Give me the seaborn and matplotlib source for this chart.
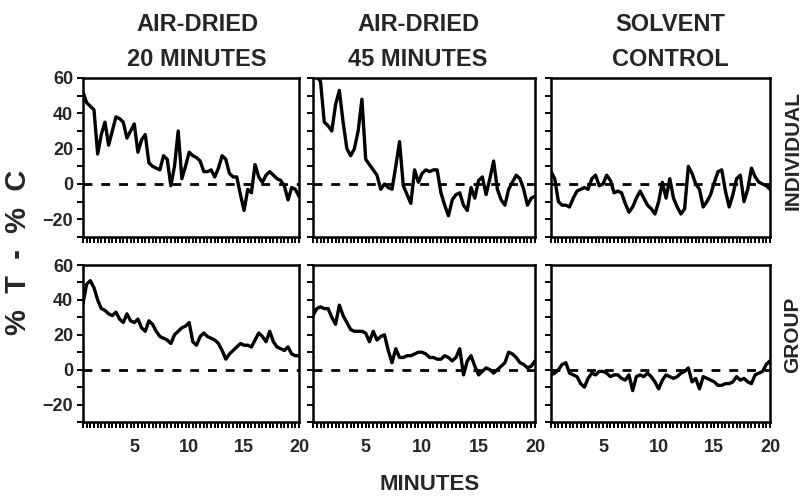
import numpy as np
import pandas as pd
import matplotlib
matplotlib.use('Agg')
import matplotlib.pyplot as plt
import seaborn as sns
from matplotlib.ticker import FixedLocator, MultipleLocator

# sampling every 20 s over 20 minutes
minutes = np.arange(1, 61) / 3

ind_air20 = [52, 46, 44, 42, 17, 28, 35, 22, 30, 38, 37, 35, 26, 30, 34, 18, 25, 28, 12, 10,
             9, 8, 16, 14, -1, 10, 30, 3, 10, 18, 16, 15, 13, 7, 7, 8, 4, 9, 16, 14,
             6, 4, 4, -6, -15, -3, -5, 11, 4, 1, 5, 7, 5, 3, 2, -1, -9, -2, -3, -7]
ind_air45 = [62, 61, 58, 35, 33, 30, 45, 53, 35, 20, 16, 20, 30, 48, 14, 11, 8, 5, -3, 0,
             -2, -3, 10, 24, -1, -6, -11, 8, 1, 6, 8, 7, 8, 8, -5, -12, -18, -9, -6, -5,
             -12, -15, -2, -8, 2, 4, -6, 3, 13, -3, -9, -12, -3, 1, 5, 3, -3, -12, -8, -7]
ind_solvent = [7, 3, -10, -12, -12, -13, -8, -4, -3, -2, -3, 3, 5, -1, 0, 5, 2, -5, -4, -5,
               -11, -16, -13, -8, -4, -8, -12, -14, -17, -10, 1, -8, 3, -8, -13, -17, -14, 10, 6, 0,
               -3, -13, -10, -6, 1, 7, 8, -4, -13, -6, 3, 5, -10, -3, 9, 4, 1, 0, -1, -3]
grp_air20 = [38, 49, 51, 47, 40, 35, 34, 32, 31, 33, 29, 27, 32, 28, 27, 29, 24, 22, 28, 26,
             22, 19, 18, 17, 15, 20, 22, 24, 25, 27, 16, 14, 19, 21, 19, 18, 17, 15, 11, 6,
             9, 11, 13, 15, 14, 14, 13, 17, 21, 19, 16, 22, 16, 13, 12, 11, 13, 9, 8, 8]
grp_air45 = [31, 35, 36, 35, 35, 30, 26, 37, 31, 27, 23, 22, 22, 22, 21, 16, 22, 17, 19, 20,
             11, 4, 12, 7, 7, 8, 8, 9, 10, 10, 9, 7, 7, 6, 6, 8, 7, 5, 7, 12,
             -3, 5, 8, 2, -3, -1, 1, 0, -2, 0, 2, 4, 10, 9, 7, 4, 3, 1, 2, 5]
grp_solvent = [-3, -2, 0, 3, 4, -2, -3, -4, -8, -10, -5, -2, -3, -1, -1, -2, -4, -3, -3, -5,
               -6, -3, -12, -4, -3, -4, -2, -4, -7, -11, -6, -3, -4, -5, -4, -2, -1, 1, -7, -5,
               -11, -4, -5, -6, -7, -9, -9, -8, -8, -7, -4, -6, -5, -7, -8, -3, -2, -1, 3, 5]

col_titles = [("AIR-DRIED", "20 MINUTES"), ("AIR-DRIED", "45 MINUTES"), ("SOLVENT", "CONTROL")]
row_titles = ["INDIVIDUAL", "GROUP"]
series = [[ind_air20, ind_air45, ind_solvent], [grp_air20, grp_air45, grp_solvent]]

sns.set_style('white')
plt.rcParams['font.family'] = ['Liberation Sans', 'DejaVu Sans']
plt.rcParams['font.weight'] = 'bold'

W, H = 808, 504
fig, axes = plt.subplots(2, 3, figsize=(W / 100, H / 100), dpi=100)

col_px = [(83, 299), (313, 535), (551, 770)]
row_px = [(78, 237), (265, 422)]

for r in range(2):
    for c in range(3):
        ax = axes[r, c]
        x0, x1 = col_px[c]
        y0, y1 = row_px[r]
        ax.set_position([x0 / W, 1 - y1 / H, (x1 - x0) / W, (y1 - y0) / H])
        df = pd.DataFrame({'minute': minutes, 'diff': series[r][c]})
        sns.lineplot(data=df, x='minute', y='diff', ax=ax, color='black', linewidth=2.4)
        ax.axhline(0, color='black', linewidth=2, linestyle=(0, (3.2, 3.2)), zorder=1)
        ax.set_xlim(minutes[0], minutes[-1])
        ax.set_ylim(-30, 60)
        ax.set_xlabel('')
        ax.set_ylabel('')
        for s in ax.spines.values():
            s.set_linewidth(1.8)
            s.set_color('black')
        ax.xaxis.set_major_locator(FixedLocator([5, 10, 15, 20]))
        ax.xaxis.set_minor_locator(FixedLocator(minutes))
        ax.yaxis.set_major_locator(FixedLocator([-20, 0, 20, 40, 60]))
        ax.yaxis.set_minor_locator(MultipleLocator(10))
        ax.tick_params(which='both', direction='out', color='black', width=1.4,
                       length=4, labelsize=13, bottom=True, left=True)
        ax.tick_params(axis='x', pad=8)
        ax.tick_params(axis='y', pad=3)
        if r == 0:
            ax.set_xticklabels([])
        if c > 0:
            ax.set_yticklabels([])

# column headings
title_x = [197, 418, 670]
for c, (l1, l2) in enumerate(col_titles):
    fig.text(title_x[c] / W, 1 - 31 / H, l1, ha='center', va='baseline',
             fontsize=17, fontweight='bold')
    fig.text(title_x[c] / W, 1 - 66 / H, l2, ha='center', va='baseline',
             fontsize=17, fontweight='bold')

# row labels
fig.text(793 / W, 1 - 150 / H, row_titles[0], rotation=90, ha='center', va='center',
         fontsize=15, fontweight='bold')
fig.text(793 / W, 1 - 335 / H, row_titles[1], rotation=90, ha='center', va='center',
         fontsize=15, fontweight='bold')

fig.text(18 / W, 1 - 252 / H, "%  T  -  %  C", rotation=90, ha='center', va='center',
         fontsize=21, fontweight='bold')
fig.text(430 / W, 1 - 485 / H, "MINUTES", ha='center', va='center',
         fontsize=16, fontweight='bold')

fig.savefig('out.png', dpi=100, facecolor='white')
